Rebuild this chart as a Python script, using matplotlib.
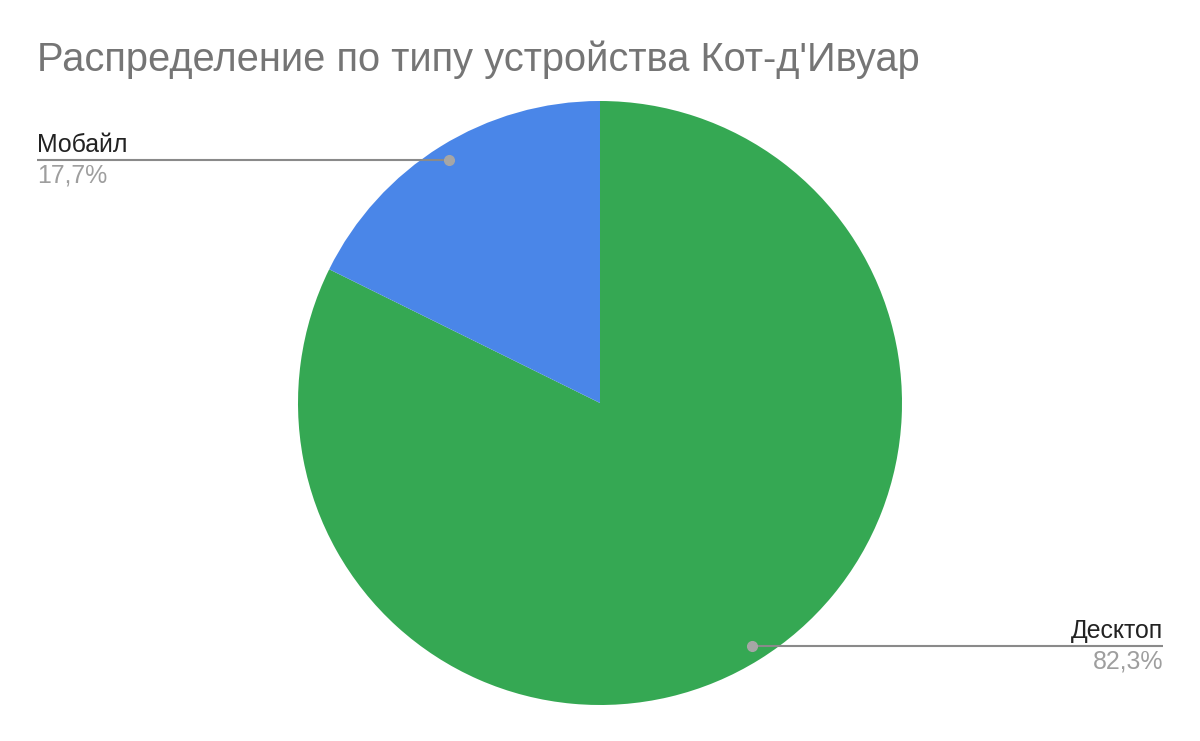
import matplotlib
matplotlib.use("Agg")
import matplotlib.pyplot as plt
import numpy as np

plt.rcParams['font.family'] = ['Liberation Sans', 'DejaVu Sans']

title = "Распределение по типу устройства Кот-д'Ивуар"
categories = ["Десктоп", "Мобайл"]
values = [82.3, 17.7]
pct_labels = ["82,3%", "17,7%"]
colors = ["#35a853", "#4a86e8"]

W, H = 1200, 741
fig = plt.figure(figsize=(W / 100, H / 100), dpi=100)
ax = fig.add_axes([0, 0, 1, 1])

cx, cy, r = 600, H - 403, 302
wedges, _ = ax.pie(values, colors=colors, startangle=90, counterclock=False,
                   center=(cx, cy), radius=r, frame=True,
                   wedgeprops=dict(linewidth=0))
ax.set_xlim(0, W)
ax.set_ylim(0, H)
ax.set_aspect('auto')
ax.axis('off')

fig.text(37 / W, 1 - 71 / H, title, fontsize=28.7, color="#757575", va='baseline', ha='left')

# label placements (in pixel coords: dot x, line y, text x, alignment)
label_pos = {"Мобайл": (449, 160, 37, 'left'), "Десктоп": (752, 646, 1163, 'right')}
for cat, pct in zip(categories, pct_labels):
    dx, ly, tx, ha = label_pos[cat]
    y = H - ly
    ax.plot([tx, dx], [y, y], color="#8a8a8a", lw=1.5, solid_capstyle='butt', zorder=3)
    ax.plot([dx], [y], 'o', color="#a6a6a6", ms=7, zorder=4)
    ax.text(tx, y + 8, cat, fontsize=17.9, color="#222222", ha=ha, va='baseline')
    ax.text(tx, y - 22, pct, fontsize=17.9, color="#9e9e9e", ha=ha, va='baseline')

fig.savefig("out.png", dpi=100, facecolor='white')
